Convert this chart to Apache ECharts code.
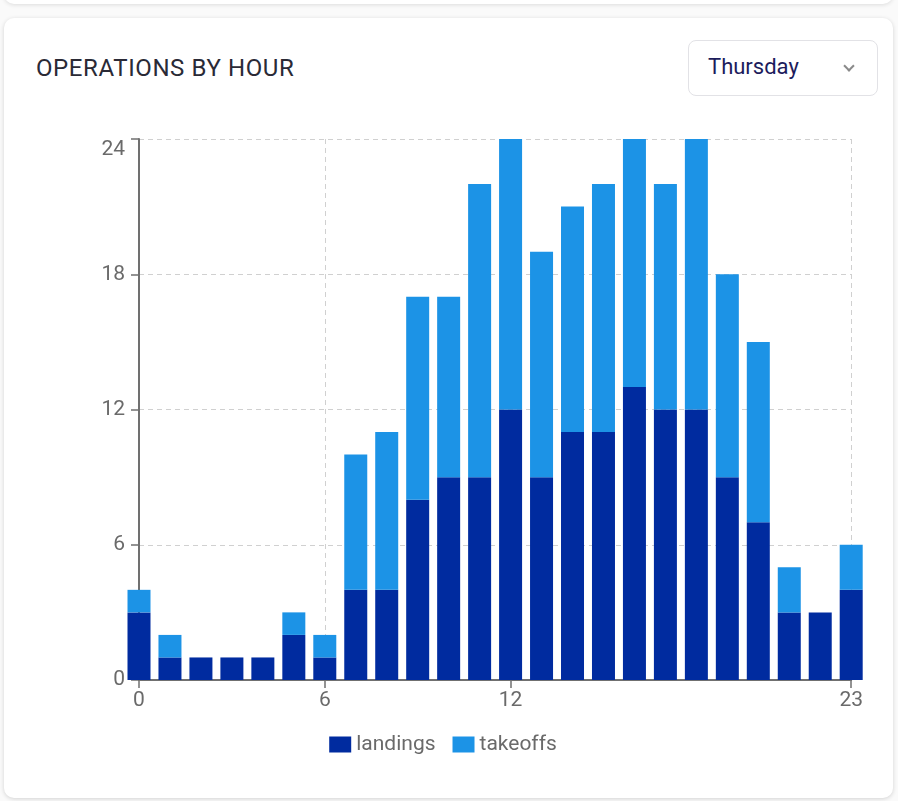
<!DOCTYPE html>
<html>
<head>
<meta charset="utf-8">
<script src="https://cdn.jsdelivr.net/npm/echarts@6/dist/echarts.min.js"></script>
<style>
  html, body { margin: 0; padding: 0; width: 898px; height: 801px; background: #fafafa; overflow: hidden; font-family: Roboto, "Noto Sans", sans-serif; }
  .topcard { position: absolute; left: 4px; top: -30px; width: 889px; height: 34px; background: #fff; border-radius: 10px; box-shadow: 0 1px 4px rgba(0,0,0,0.12); }
  .card { position: absolute; left: 4px; top: 18px; width: 889px; height: 780px; background: #fff; border-radius: 10px; box-shadow: 0 1px 4px rgba(0,0,0,0.16); }
  .title { position: absolute; left: 36px; top: 52px; font-size: 24px; line-height: 32px; color: #2a2a36; letter-spacing: 0.6px; }
  .dropdown { position: absolute; left: 688px; top: 40px; width: 188px; height: 54px; border: 1px solid #e2e2e6; border-radius: 8px; background: #fff; }
  .dropdown .txt { position: absolute; left: 19px; top: 11px; font-size: 22px; line-height: 30px; color: #1c1c5c; }
  .dropdown .chev { position: absolute; left: 156px; top: 21px; width: 6px; height: 6px; border-right: 2px solid #8a8a8a; border-bottom: 2px solid #8a8a8a; transform: rotate(45deg); }
  #chart { position: absolute; left: 20px; top: 100px; width: 846px; height: 690px; }
</style>
</head>
<body>
<div class="topcard"></div>
<div class="card"></div>
<div class="title">OPERATIONS BY HOUR</div>
<div class="dropdown"><span class="txt">Thursday</span><span class="chev"></span></div>
<div id="chart"></div>
<script>
const hours = ['0','1','2','3','4','5','6','7','8','9','10','11','12','13','14','15','16','17','18','19','20','21','22','23'];
const landings = [3,1,1,1,1,2,1,4,4,8,9,9,12,9,11,11,13,12,12,9,7,3,3,4];
const takeoffs = [1,1,0,0,0,1,1,6,7,9,8,13,12,10,10,11,11,10,12,9,8,2,0,2];
const xTickLabels = ['0','6','12','23'];
const yTicks = [0,6,12,18,24];
const seriesNames = ['landings','takeoffs'];

const axisColor = '#707070';
const labelColor = '#6a6a6a';
const showTick = (idx, val) => xTickLabels.indexOf(String(val)) >= 0;

const chart = echarts.init(document.getElementById('chart'), null, {renderer: 'canvas'});
chart.setOption({
  animation: false,
  textStyle: { fontFamily: 'Roboto' },
  grid: { left: 119, right: 8, top: 39, bottom: 110, containLabel: false },
  legend: {
    data: seriesNames,
    left: 'center',
    top: 629,
    itemWidth: 22,
    itemHeight: 16,
    itemGap: 17,
    icon: 'rect',
    textStyle: { fontSize: 21, color: labelColor, fontFamily: 'Roboto' }
  },
  xAxis: {
    type: 'category',
    data: hours,
    boundaryGap: false,
    axisLine: { show: true, lineStyle: { color: axisColor, width: 2 } },
    axisTick: { show: true, length: 8, interval: showTick, lineStyle: { color: axisColor, width: 1.5 } },
    axisLabel: { interval: showTick, fontSize: 21, color: labelColor, margin: 10 },
    splitLine: { show: true, interval: showTick, lineStyle: { color: '#d0d0d0', type: [5, 4], width: 1 } }
  },
  yAxis: {
    type: 'value',
    min: yTicks[0],
    max: yTicks[yTicks.length - 1],
    interval: 6,
    axisLine: { show: true, lineStyle: { color: axisColor, width: 2 } },
    axisTick: { show: true, length: 8, lineStyle: { color: axisColor, width: 1.5 } },
    axisLabel: { fontSize: 21, color: labelColor, margin: 14, verticalAlignMaxLabel: 'top' },
    splitLine: { show: true, lineStyle: { color: '#d0d0d0', type: [5, 4], width: 1 } }
  },
  series: [
    { name: seriesNames[0], type: 'bar', stack: 'ops', barWidth: 23, data: landings, itemStyle: { color: '#002b9f' } },
    { name: seriesNames[1], type: 'bar', stack: 'ops', barWidth: 23, data: takeoffs, itemStyle: { color: '#1c93e6' } }
  ]
});
</script>
</body>
</html>
